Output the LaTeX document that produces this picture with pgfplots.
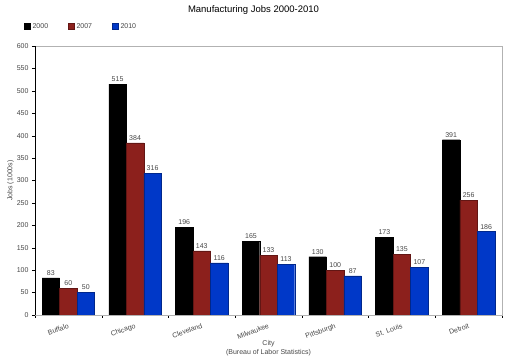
\documentclass[border=0pt]{standalone}
\usepackage{pgfplots}
\pgfplotsset{compat=1.18}
\usepackage{fontspec}
\setmainfont{Liberation Sans}
\definecolor{cA}{RGB}{0,0,0}
\definecolor{cB}{RGB}{140,32,28}
\definecolor{cC}{RGB}{0,56,200}
\definecolor{txt}{RGB}{70,70,70}
\begin{document}
\begin{tikzpicture}[x=1pt,y=1pt]
\path (0,0) rectangle (506,356);
\begin{axis}[
  at={(35pt,41pt)}, anchor=south west,
  scale only axis, width=467pt, height=269pt,
  /pgf/number format/assume math mode=true,
  xmin=-0.5, xmax=6.5, ymin=0, ymax=600,
  ytick={0,50,...,600},
  xtick={0,...,6},
  xticklabels={Buffalo,Chicago,Cleveland,Milwaukee,Pittsburgh,St. Louis,Detroit},
  x tick label style={rotate=20, anchor=north east, font=\fontsize{7}{8}\selectfont, text=txt, xshift=1pt, yshift=-1pt},
  y tick label style={font=\fontsize{7}{8}\selectfont, text=txt},
  major x tick style={draw=none},
  minor xtick={-0.5,0.5,...,6.5},
  minor tick length=3pt,
  major tick length=3pt,
  tick align=outside,
  xtick pos=bottom, ytick pos=left,
  tick style={black},
  axis line style={gray!60},
  ybar=0pt, bar width=17.5pt,
  nodes near coords,
  every node near coord/.append style={font=\fontsize{7}{8}\selectfont, text=txt, yshift=-1pt},
  xlabel={City\\(Bureau of Labor Statistics)},
  xlabel style={align=center, font=\fontsize{7}{8.5}\selectfont, text=txt, yshift=7pt},
  ylabel={Jobs (1000s)},
  ylabel style={font=\fontsize{7}{8}\selectfont, text=txt, yshift=-4pt},
  title={Manufacturing Jobs 2000-2010},
  title style={font=\fontsize{9.5}{10}\selectfont, at={(0.5,1)}, yshift=22pt, xshift=-15pt},
  legend style={at={(-0.03,1.045)}, anchor=south west, draw=none, legend columns=-1, font=\fontsize{7}{8}\selectfont, text=txt,
     /tikz/every even column/.append style={column sep=18pt}},
  legend image code/.code={\fill[#1] (0pt,-2.5pt) rectangle (6pt,3.5pt);},
]
\addplot[fill=cA, draw=black] coordinates {(0,83) (1,515) (2,196) (3,165) (4,130) (5,173) (6,391)};
\addplot[fill=cB, draw=cB!70!black] coordinates {(0,60) (1,384) (2,143) (3,133) (4,100) (5,135) (6,256)};
\addplot[fill=cC, draw=cC!70!black] coordinates {(0,50) (1,316) (2,116) (3,113) (4,87) (5,107) (6,186)};
\legend{2000,2007,2010}
\draw[black] (rel axis cs:0,1) -- (rel axis cs:0,0) -- (rel axis cs:1,0);
\end{axis}
\end{tikzpicture}
\end{document}
